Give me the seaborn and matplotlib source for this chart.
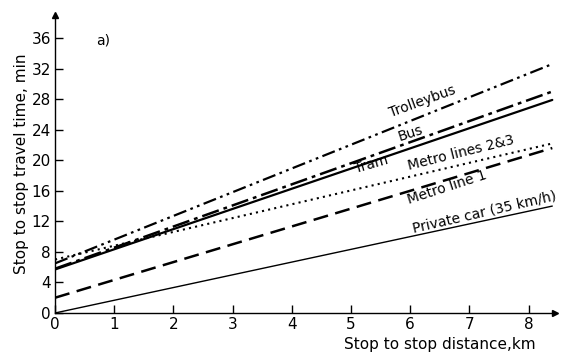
import numpy as np
import matplotlib
matplotlib.use("Agg")
import matplotlib.pyplot as plt
import seaborn as sns

# Stop to stop distance, km (lines are straight, so two ends are enough)
distance_km = [0, 8.4]

# Travel time, min, at both ends of each line
trolleybus = [6.5, 32.6]
bus = [5.8, 29.0]
tram = [5.7, 27.9]
metro_23 = [7.0, 22.2]
metro_1 = [2.0, 21.6]
private_car = [0.0, 14.0]

y_ticks = [0, 4, 8, 12, 16, 20, 24, 28, 32, 36]
x_ticks = [0, 1, 2, 3, 4, 5, 6, 7, 8]

sns.set_theme(style="white")
plt.rcParams['font.family'] = ['DejaVu Sans']

fig = plt.figure(figsize=(5.62, 3.61), dpi=100)
ax = fig.add_axes([0.098, 0.133, 0.89, 0.825])

ink = "black"
sns.lineplot(x=distance_km, y=trolleybus, ax=ax, color=ink, lw=1.6,
             linestyle=(0, (6, 2, 1.2, 2, 1.2, 2)))
sns.lineplot(x=distance_km, y=bus, ax=ax, color=ink, lw=1.8,
             linestyle=(0, (7, 2, 1.5, 2)))
sns.lineplot(x=distance_km, y=tram, ax=ax, color=ink, lw=1.6)
sns.lineplot(x=distance_km, y=metro_23, ax=ax, color=ink, lw=1.5,
             linestyle=(0, (1, 2)))
sns.lineplot(x=distance_km, y=metro_1, ax=ax, color=ink, lw=1.8,
             linestyle=(0, (6, 3)))
sns.lineplot(x=distance_km, y=private_car, ax=ax, color=ink, lw=1.0)

ax.set_xlim(0, 8.45)
ax.set_ylim(0, 39)
ax.set_xticks(x_ticks)
ax.set_yticks(y_ticks)
ax.tick_params(direction="in", length=6, width=1, colors=ink, labelsize=11,
               left=True, bottom=True, pad=3)
for side in ["top", "right"]:
    ax.spines[side].set_visible(False)
for side in ["left", "bottom"]:
    ax.spines[side].set_color(ink)
    ax.spines[side].set_linewidth(1.0)

# axis arrows
ax.plot(1, 0, ">", color=ink, ms=4, transform=ax.transAxes, clip_on=False)
ax.plot(0, 1, "^", color=ink, ms=4, transform=ax.transAxes, clip_on=False)

ax.set_ylabel("Stop to stop travel time, min", fontsize=11, color=ink, labelpad=2)
ax.set_xlabel("Stop to stop distance,km", fontsize=11, color=ink)
ax.xaxis.set_label_coords(0.77, -0.08)

kw = dict(fontsize=10, color=ink, ha="center", va="center")
ax.text(0.81, 35.7, "a)", **kw)
ax.text(6.2, 27.7, "Trolleybus", rotation=20, **kw)
ax.text(6.0, 23.6, "Bus", rotation=18, **kw)
ax.text(5.35, 19.4, "Tram", rotation=16, **kw)
ax.text(6.85, 20.9, "Metro lines 2&3", rotation=14, **kw)
ax.text(6.63, 16.4, "Metro line 1", rotation=18, **kw)
ax.text(7.25, 13.2, "Private car (35 km/h)", rotation=13, **kw)

fig.savefig("out.png", dpi=100)
